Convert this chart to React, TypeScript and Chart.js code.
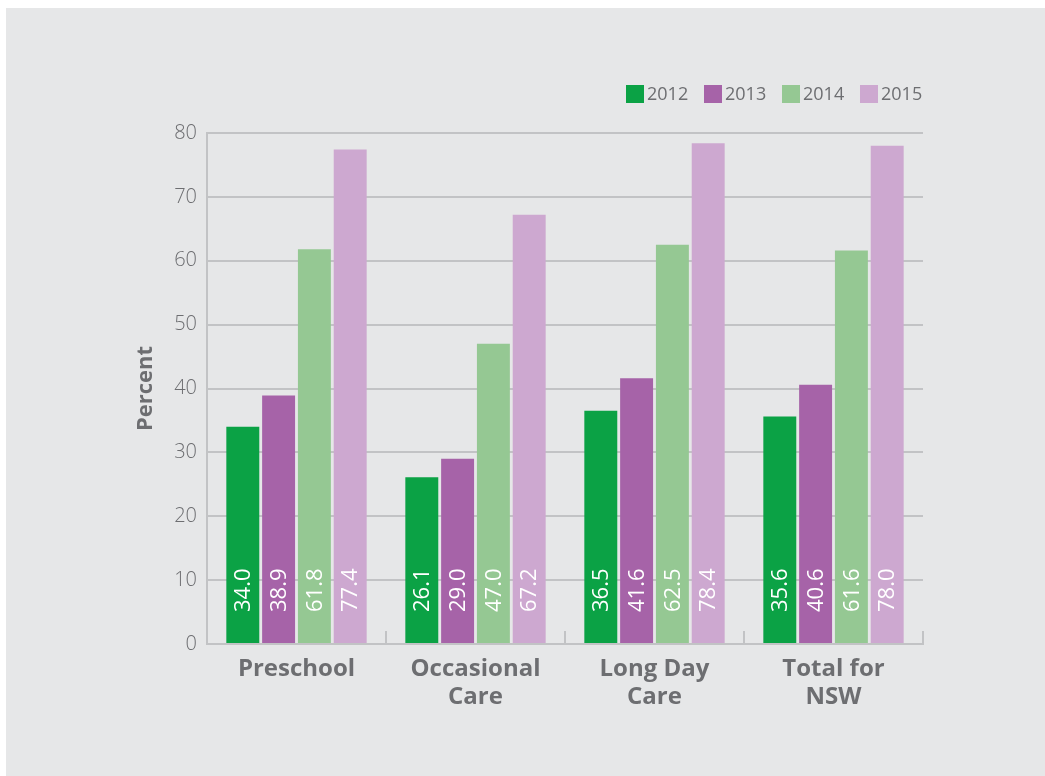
import React, { useEffect, useRef } from "react";
import { Chart, registerables } from "chart.js";

Chart.register(...registerables);

const categories: string[][] = [["Preschool"], ["Occasional", "Care"], ["Long Day", "Care"], ["Total for", "NSW"]];
const years: string[] = ["2012", "2013", "2014", "2015"];
const values2012: number[] = [34.0, 26.1, 36.5, 35.6];
const values2013: number[] = [38.9, 29.0, 41.6, 40.6];
const values2014: number[] = [61.8, 47.0, 62.5, 61.6];
const values2015: number[] = [77.4, 67.2, 78.4, 78.0];
const seriesValues: number[][] = [values2012, values2013, values2014, values2015];
const seriesColors: string[] = ["#0ba245", "#a663a8", "#95c893", "#cda8d0"];
const yMin = 0;
const yMax = 80;
const yStep = 10;
const yTitle = "Percent";

const W = 1039;
const H = 768;
const TEXT = "#6d6e71";
const GRID = "#c2c3c5";
const FONT = "'Open Sans', sans-serif";

const overlayPlugin = {
  id: "overlay",
  afterDatasetsDraw(chart: any) {
    const ctx = chart.ctx;
    ctx.save();
    // value labels, rotated, at the bottom of each bar
    chart.data.datasets.forEach((ds: any, di: number) => {
      const meta = chart.getDatasetMeta(di);
      meta.data.forEach((el: any, i: number) => {
        const v = ds.data[i];
        ctx.save();
        ctx.translate(el.x, el.base - 31);
        ctx.rotate(-Math.PI / 2);
        ctx.fillStyle = "#ffffff";
        ctx.font = `400 22px ${FONT}`;
        ctx.textAlign = "left";
        ctx.textBaseline = "middle";
        ctx.fillText(Number(v).toFixed(1), 0, 1);
        ctx.restore();
      });
    });
    // legend
    let x = 620;
    const y = 77;
    chart.data.datasets.forEach((ds: any) => {
      ctx.fillStyle = ds.backgroundColor;
      ctx.fillRect(x, y, 18, 18);
      ctx.fillStyle = TEXT;
      ctx.font = `400 18px ${FONT}`;
      ctx.textAlign = "left";
      ctx.textBaseline = "middle";
      ctx.fillText(ds.label, x + 21, y + 9.5);
      x += 78;
    });
    ctx.restore();
  },
};

export default function App() {
  const ref = useRef<HTMLCanvasElement | null>(null);
  useEffect(() => {
    if (!ref.current) return;
    const chart = new Chart(ref.current, {
      type: "bar",
      data: {
        labels: categories as any,
        datasets: years.map((y, i) => ({
          label: y,
          data: seriesValues[i],
          backgroundColor: seriesColors[i],
          borderWidth: 0,
          categoryPercentage: 0.8,
          barPercentage: 0.92,
        })),
      },
      options: {
        responsive: false,
        animation: false,
        devicePixelRatio: 1,
        layout: { padding: { left: 123, right: 122, top: 125, bottom: 0 } },
        plugins: {
          legend: { display: false },
          tooltip: { enabled: false },
        },
        scales: {
          x: {
            grid: {
              display: true,
              drawOnChartArea: false,
              drawTicks: true,
              tickLength: -13,
              color: GRID,
              lineWidth: 2,
              offset: true,
            },
            border: { display: true, color: GRID, width: 2 },
            ticks: {
              color: TEXT,
              font: { family: FONT, size: 24, weight: "bold", lineHeight: 1.167 },
              padding: 24,
              maxRotation: 0,
              minRotation: 0,
              autoSkip: false,
            },
            afterFit(scale: any) {
              scale.height = 132;
            },
          },
          y: {
            min: yMin,
            max: yMax,
            grid: { color: GRID, lineWidth: 2, drawTicks: false },
            border: { display: true, color: GRID, width: 2 },
            ticks: {
              stepSize: yStep,
              color: TEXT,
              font: { family: FONT, size: 20, weight: "300" },
              padding: 10,
            },
            title: {
              display: true,
              text: yTitle,
              color: TEXT,
              font: { family: FONT, size: 22, weight: "bold", lineHeight: 1.2 },
              padding: { top: 4, bottom: 4 },
            },
            afterFit(scale: any) {
              scale.width = 78;
            },
          },
        },
      },
      plugins: [overlayPlugin],
    } as any);
    return () => chart.destroy();
  }, []);
  return (
    <div
      style={{
        position: "absolute",
        left: 6,
        top: 8,
        width: W,
        height: H,
        background: "#e6e7e8",
      }}
    >
      <canvas ref={ref} width={W} height={H} style={{ display: "block", width: W, height: H }} />
    </div>
  );
}
